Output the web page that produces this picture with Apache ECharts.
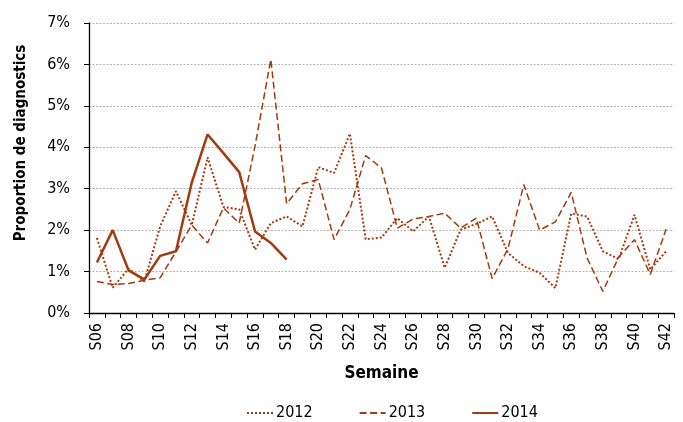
<!DOCTYPE html>
<html>
<head>
<meta charset="utf-8">
<script src="https://cdn.jsdelivr.net/npm/echarts@6/dist/echarts.min.js"></script>
<style>html,body{margin:0;padding:0;background:#fff}#c{width:683px;height:422px}</style>
</head>
<body>
<div id="c"></div>
<script>
var weeks = ["S06","S07","S08","S09","S10","S11","S12","S13","S14","S15","S16","S17","S18","S19","S20","S21","S22","S23","S24","S25","S26","S27","S28","S29","S30","S31","S32","S33","S34","S35","S36","S37","S38","S39","S40","S41","S42"];
var y2012 = [1.81,0.61,1.07,0.76,2.09,2.94,2.12,3.76,2.56,2.50,1.53,2.17,2.33,2.09,3.52,3.38,4.33,1.78,1.82,2.29,1.97,2.33,1.09,2.01,2.15,2.33,1.45,1.13,0.97,0.60,2.40,2.33,1.49,1.30,2.37,1.05,1.49];
var y2013 = [0.76,0.69,0.71,0.79,0.85,1.48,2.12,1.69,2.54,2.17,4.03,6.12,2.64,3.12,3.22,1.77,2.50,3.80,3.50,2.05,2.27,2.33,2.41,2.05,2.29,0.83,1.55,3.10,2.00,2.20,2.91,1.33,0.52,1.35,1.77,0.93,2.02];
var y2014 = [1.22,2.00,1.03,0.81,1.38,1.49,3.15,4.31,3.86,3.40,1.97,1.69,1.29];
var seriesNames = ["2012","2013","2014"];
var yTicks = [0,1,2,3,4,5,6,7];

var color = "#A33B10";
var font = "'DejaVu Sans Condensed','Liberation Sans Narrow',sans-serif";
var chart = echarts.init(document.getElementById('c'), null, {renderer:'canvas'});
chart.setOption({
  animation: false,
  textStyle: {fontFamily: font},
  grid: {left: 89, right: 9, top: 23, bottom: 109, containLabel: false},
  legend: {
    top: 400, left: 241, itemWidth: 26, itemHeight: 10, itemGap: 46,
    itemStyle: {opacity: 0},
    textStyle: {fontFamily: font, fontSize: 16, color: '#000', padding: [0, 0, 0, -2]},
    data: seriesNames
  },
  xAxis: {
    type: 'category', data: weeks, boundaryGap: true,
    name: 'Semaine', nameLocation: 'middle', nameGap: 52,
    nameTextStyle: {fontFamily: font, fontWeight: 'bold', fontSize: 17, color: '#000'},
    axisLine: {lineStyle: {color: '#000', width: 1.3}},
    axisTick: {show: true, interval: 0, alignWithLabel: false, length: 5, lineStyle: {color: '#000'}},
    axisLabel: {interval: 1, rotate: 90, fontFamily: font, fontSize: 16, color: '#000', margin: 10},
    splitLine: {show: false}
  },
  yAxis: {
    type: 'value', min: yTicks[0], max: yTicks[yTicks.length-1], interval: 1,
    name: 'Proportion de diagnostics', nameLocation: 'middle', nameGap: 60,
    nameTextStyle: {fontFamily: font, fontWeight: 'bold', fontSize: 15, color: '#000', padding: [0, 0, 0, 50]},
    axisLine: {show: true, lineStyle: {color: '#000', width: 1.3}},
    axisTick: {show: true, length: 5, lineStyle: {color: '#000'}},
    axisLabel: {formatter: '{value}%', fontFamily: font, fontSize: 16, color: '#000', margin: 19},
    splitLine: {show: true, lineStyle: {color: '#b4b4b4', type: [2,1.5], width: 1}}
  },
  series: [
    {name: seriesNames[0], type: 'line', data: y2012, symbol: 'none', color: color,
     lineStyle: {color: color, width: 2, type: [2,2]}},
    {name: seriesNames[1], type: 'line', data: y2013, symbol: 'none', color: color,
     lineStyle: {color: color, width: 1.5, type: [7,3.5]}},
    {name: seriesNames[2], type: 'line', data: y2014, symbol: 'none', color: color,
     lineStyle: {color: color, width: 2.5}}
  ]
});
</script>
</body>
</html>
